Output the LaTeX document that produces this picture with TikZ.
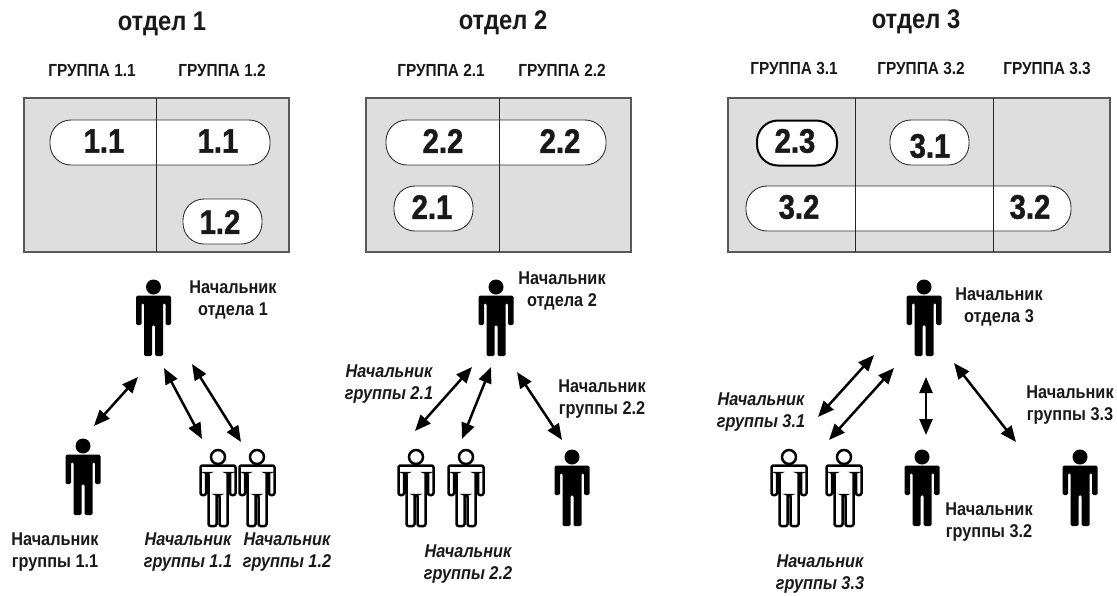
\documentclass[tikz,border=0pt]{standalone}
\usepackage{fontspec}
\setmainfont{Liberation Sans}
\newfontfamily\digitfont[FakeStretch=0.86,FakeBold=1.2]{Liberation Sans}
\newfontfamily\labelfont[FakeStretch=0.88]{Liberation Sans}
\usetikzlibrary{arrows.meta}
\newcommand{\personpath}{(-17.5,8.5) -- (17.5,8.5) -- (17.5,38) -- (12,38) -- (12,16) -- (9.5,16) -- (9.5,69) -- (1.5,69) -- (1.5,38) -- (-1.5,38) -- (-1.5,69) -- (-9.5,69) -- (-9.5,16) -- (-12,16) -- (-12,38) -- (-17.5,38) -- cycle}
\tikzset{
  panelbox/.style={draw=black!65,line width=1.4pt,fill=black!13},
  divider/.style={draw=black!85,line width=1pt},
  pillbox/.style={draw=black!80,line width=0.9pt,fill=white,rounded corners=21pt,inner sep=0pt,minimum height=45pt},
  pillthick/.style={pillbox,draw=black,line width=2pt},
  pilltext/.style={font=\digitfont\bfseries\fontsize{34}{34}\selectfont,text=black!90,inner sep=0pt},
  titletext/.style={font=\labelfont\bfseries\fontsize{27}{28}\selectfont,text=black!90,inner sep=0pt},
  grouptext/.style={font=\labelfont\bfseries\fontsize{17.5}{18}\selectfont,text=black!90,inner sep=0pt},
  chieftext/.style={font=\labelfont\bfseries\fontsize{18.5}{22}\selectfont,text=black!90,align=center,inner sep=0pt},
  chiefitalic/.style={chieftext,font=\labelfont\bfseries\itshape\fontsize{18.5}{22}\selectfont},
  link/.style={line width=2.5pt,black,{Triangle[length=16pt,width=13pt]}-{Triangle[length=16pt,width=13pt]}},
  solidman/.pic={
    \fill[black] (0,0) circle (7.5);
    \fill[black,rounded corners=1.5pt] \personpath;
  },
  hollowman/.pic={
    \draw[black,line width=2.5pt,fill=white,rounded corners=2pt] \personpath;
    \draw[black,line width=2.5pt,fill=white] (0,0) circle (7);
  }
}
\begin{document}
\begin{tikzpicture}[x=1pt,y=-1pt]
\useasboundingbox (0,0) rectangle (1117,595);
% titles
\node[titletext] (t1) at (162,24) {отдел 1};
\node[titletext] (t2) at (503,23) {отдел 2};
\node[titletext] (t3) at (916,22) {отдел 3};
% group headings
\node[grouptext] (g11) at (92,71) {ГРУППА 1.1};
\node[grouptext] (g12) at (222,70) {ГРУППА 1.2};
\node[grouptext] (g21) at (441,70) {ГРУППА 2.1};
\node[grouptext] (g22) at (562,70) {ГРУППА 2.2};
\node[grouptext] (g31) at (794,68) {ГРУППА 3.1};
\node[grouptext] (g32) at (921,68) {ГРУППА 3.2};
\node[grouptext] (g33) at (1047,68) {ГРУППА 3.3};
% panels
\path[panelbox] (24,98) rectangle (289,252);
\path[panelbox] (366,98) rectangle (631,252);
\path[panelbox] (728,98) rectangle (1110,252);
% pills
\node[pillbox,minimum width=220pt] (p1a) at (160,142.5) {};
\node[pillbox,minimum width=79pt] (p1b) at (222.5,221.5) {};
\node[pillbox,minimum width=220pt] (p2a) at (496,142.5) {};
\node[pillbox,minimum width=79pt] (p2b) at (433.5,208.5) {};
\node[pillthick,minimum width=80pt] (p3a) at (797,143) {};
\node[pillbox,minimum width=79pt] (p3b) at (929.5,142.5) {};
\node[pillbox,minimum width=325pt] (p3c) at (908.5,208.5) {};
% dividers
\path[divider] (156,98) -- (156,252);
\path[divider] (499,98) -- (499,252);
\path[divider] (855,98) -- (855,252);
\path[divider] (993,98) -- (993,252);
% pill labels
\node[pilltext] (n1) at (104,141) {1.1};
\node[pilltext] (n2) at (218,141) {1.1};
\node[pilltext] (n3) at (220,222) {1.2};
\node[pilltext] (n4) at (443,141) {2.2};
\node[pilltext] (n5) at (560,141) {2.2};
\node[pilltext] (n6) at (432,207) {2.1};
\node[pilltext] (n7) at (795,141) {2.3};
\node[pilltext] (n8) at (930,146) {3.1};
\node[pilltext] (n9) at (799,207) {3.2};
\node[pilltext] (n10) at (1030,207) {3.2};
% people
\pic at (153.5,287) {solidman};
\pic at (83,446) {solidman};
\pic at (218,457) {hollowman};
\pic at (257,457) {hollowman};
\pic at (496,287) {solidman};
\pic at (416,457) {hollowman};
\pic at (466,457) {hollowman};
\pic at (572,457) {solidman};
\pic at (924,287) {solidman};
\pic at (789,457) {hollowman};
\pic at (844,457) {hollowman};
\pic at (922,457) {solidman};
\pic at (1080,457) {solidman};
% connector ends
\coordinate (a1s) at (138,377); \coordinate (a1e) at (94,426);
\coordinate (a2s) at (164,368); \coordinate (a2e) at (202,439);
\coordinate (a3s) at (192,364); \coordinate (a3e) at (241,442);
\coordinate (b1s) at (472,367); \coordinate (b1e) at (415,431);
\coordinate (b2s) at (491,367); \coordinate (b2e) at (462,439);
\coordinate (b3s) at (517,372); \coordinate (b3e) at (562,440);
\coordinate (c1s) at (874,355); \coordinate (c1e) at (818,417);
\coordinate (c2s) at (894,368); \coordinate (c2e) at (829,440);
\coordinate (c3s) at (926,377); \coordinate (c3e) at (926,435);
\coordinate (c4s) at (954,363); \coordinate (c4e) at (1016,442);
\draw[link] (a1s) -- (a1e);
\draw[link] (a2s) -- (a2e);
\draw[link] (a3s) -- (a3e);
\draw[link] (b1s) -- (b1e);
\draw[link] (b2s) -- (b2e);
\draw[link] (b3s) -- (b3e);
\draw[link] (c1s) -- (c1e);
\draw[link] (c2s) -- (c2e);
\draw[link] (c3s) -- (c3e);
\draw[link] (c4s) -- (c4e);
% captions
\node[chieftext] (l1) at (233,300) {Начальник\\отдела 1};
\node[chieftext] (l2) at (55,552) {Начальник\\группы 1.1};
\node[chiefitalic] (l3) at (188,552) {Начальник\\группы 1.1};
\node[chiefitalic] (l4) at (287,552) {Начальник\\группы 1.2};
\node[chieftext] (l5) at (562,291) {Начальник\\отдела 2};
\node[chiefitalic] (l6) at (389,384) {Начальник\\группы 2.1};
\node[chieftext] (l7) at (602,399) {Начальник\\группы 2.2};
\node[chiefitalic] (l8) at (468,564) {Начальник\\группы 2.2};
\node[chieftext] (l9) at (999,307) {Начальник\\отдела 3};
\node[chiefitalic] (l10) at (761,412) {Начальник\\группы 3.1};
\node[chieftext] (l11) at (1070,405) {Начальник\\группы 3.3};
\node[chieftext] (l12) at (989,522) {Начальник\\группы 3.2};
\node[chiefitalic] (l13) at (820,574) {Начальник\\группы 3.3};
\end{tikzpicture}
\end{document}
